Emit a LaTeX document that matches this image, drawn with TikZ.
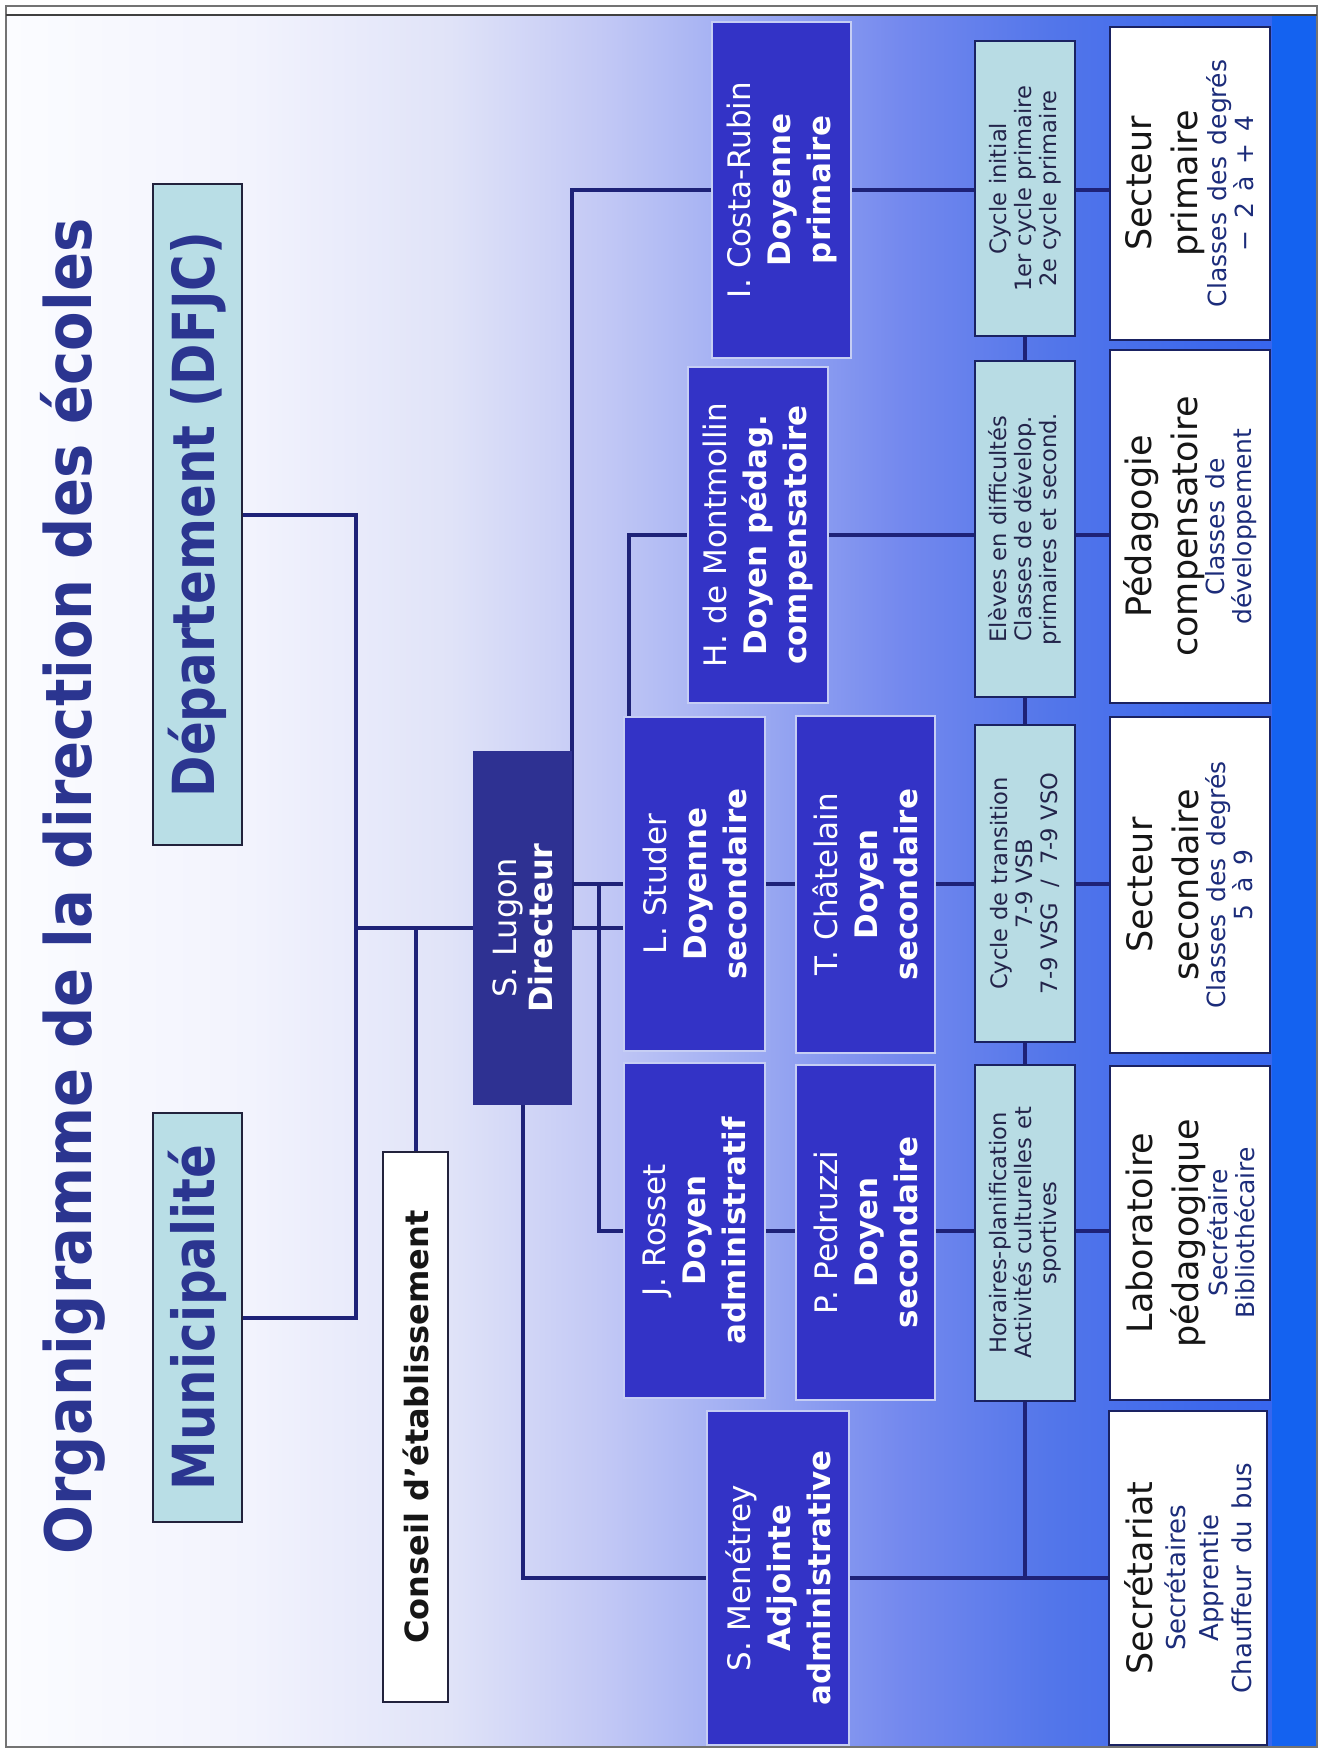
\documentclass[tikz,border=0pt]{standalone}
\usepackage{fontspec}
\setmainfont{DejaVu Sans}
\usepackage{graphicx}
\definecolor{navybox}{HTML}{2E3192}
\definecolor{doyen}{HTML}{3333C6}
\definecolor{doyenedge}{HTML}{C6CEF4}
\definecolor{cyanbox}{HTML}{B8DCE4}
\definecolor{topcyan}{HTML}{B9DEE6}
\definecolor{edge}{HTML}{1A2262}
\definecolor{topedge}{HTML}{22223C}
\definecolor{linec}{HTML}{1E2278}
\definecolor{titlec}{HTML}{2B3590}
\definecolor{subc}{HTML}{1C2C7A}
\definecolor{cyantext}{HTML}{23244A}
\definecolor{darktext}{HTML}{161616}
\definecolor{strip}{HTML}{1462F0}
\definecolor{g0}{HTML}{FBFCFF}
\definecolor{g1}{HTML}{F2F3FD}
\definecolor{g2}{HTML}{E0E3F8}
\definecolor{g3}{HTML}{C3C9F5}
\definecolor{g4}{HTML}{9DABF2}
\definecolor{g5}{HTML}{7489EE}
\definecolor{g6}{HTML}{5376EA}
\definecolor{g7}{HTML}{3E69EC}
\definecolor{g8}{HTML}{3766EE}
\pgfdeclarehorizontalshading{bgshade}{100bp}{color(0bp)=(g0); color(25bp)=(g0); color(34.6bp)=(g1); color(42.5bp)=(g2); color(48.4bp)=(g3); color(54.4bp)=(g4); color(60.3bp)=(g5); color(66.2bp)=(g6); color(72.2bp)=(g7); color(75bp)=(g8); color(100bp)=(g8)}
\pgfdeclarelayer{bg}
\pgfdeclarelayer{lines}
\pgfsetlayers{bg,lines,main}
\newcommand\fsub{\fontsize{12.5}{13.5}\selectfont\color{subc}}
\newcommand\fsubb{\fontsize{13}{16.5}\selectfont\color{subc}}
\tikzset{
  rotbox/.style={rotate=90, inner sep=0pt, outer sep=0pt, align=center},
  parastyle/.style={execute at begin node={\parindent=0pt\parskip=0pt\centering}},
  topbox/.style={rotbox, fill=topcyan, draw=topedge, line width=1pt, text=titlec, font=\bfseries\fontsize{29}{34}\selectfont},
  conseilbox/.style={rotbox, fill=white, draw=topedge, line width=1pt, text=darktext, font=\bfseries\fontsize{16}{19}\selectfont},
  dirbox/.style={rotbox, parastyle, fill=navybox, text=white, font=\fontsize{16}{18}\selectfont},
  doybox/.style={rotbox, parastyle, fill=doyen, draw=doyenedge, line width=0.6pt, text=white, font=\fontsize{15.5}{20}\selectfont},
  cybox/.style={rotbox, parastyle, fill=cyanbox, draw=edge, line width=1pt, text=cyantext, font=\fontsize{11.3}{12.5}\selectfont},
  whbox/.style={rotbox, parastyle, fill=white, draw=edge, line width=1pt, text=darktext, font=\fontsize{17.5}{23}\selectfont},
  conn/.style={draw=linec, line width=2pt},
}
\begin{document}
\begin{tikzpicture}[x=0.5pt,y=-0.5pt]
\useasboundingbox (0,0) rectangle (1323,1754);
\begin{pgfonlayer}{bg}
  \fill[white] (0,0) rectangle (1323,1754);
  \shade[shading=bgshade] (7,16) rectangle (1272,1746);
  \fill[strip] (1272,16) rectangle (1317,1746);
  \draw[black!55, line width=0.6pt] (6,6) rectangle (1317,1747);
  \draw[black!75, line width=1.2pt] (6,15) -- (1317,15);
\end{pgfonlayer}

% title
\node[rotate=90, inner sep=0pt, anchor=base, text=titlec, font=\bfseries\fontsize{32}{38}\selectfont] (title) at (91,886.5) {\scalebox{0.9}[1]{Organigramme de la direction des écoles}};

% top boxes
\node[topbox, minimum width=330.5pt, minimum height=44.5pt] (dep) at (197.5,514.5) {\scalebox{0.86}[1]{Département (DFJC)}};
\node[topbox, minimum width=204.5pt, minimum height=44.5pt] (mun) at (197.5,1317.5) {\scalebox{0.86}[1]{Municipalité}};
\node[conseilbox, minimum width=275pt, minimum height=32.5pt] (conseil) at (415.5,1427) {Conseil d’établissement};

% director
\node[dirbox, text width=177pt, minimum height=49.5pt] (lugon) at (522.5,928) {S. Lugon\par\textbf{Directeur}\par};

% deans
\node[doybox, text width=168pt, minimum height=69.5pt] (costa) at (781.5,190) {I. Costa-Rubin\par\textbf{Doyenne}\par\textbf{primaire}\par};
\node[doybox, text width=168pt, minimum height=70pt] (montmollin) at (758,535) {H. de Montmollin\par\textbf{Doyen pédag.}\par\textbf{compensatoire}\par};
\node[doybox, text width=167pt, minimum height=70.5pt] (studer) at (694.5,884) {L. Studer\par\textbf{Doyenne}\par\textbf{secondaire}\par};
\node[doybox, text width=167.5pt, minimum height=70.5pt] (rosset) at (694.5,1230.5) {J. Rosset\par\textbf{Doyen}\par\textbf{administratif}\par};
\node[doybox, text width=168.5pt, minimum height=69.5pt] (chatelain) at (865.5,884.5) {T. Châtelain\par\textbf{Doyen}\par\textbf{secondaire}\par};
\node[doybox, text width=167.5pt, minimum height=69.5pt] (pedruzzi) at (865.5,1232.5) {P. Pedruzzi\par\textbf{Doyen}\par\textbf{secondaire}\par};
\node[doybox, text width=167pt, minimum height=71pt] (menetrey) at (778,1578) {S. Menétrey\par\textbf{Adjointe}\par\textbf{administrative}\par};

% cyan row
\node[cybox, text width=147.5pt, minimum height=50pt] (cycinit) at (1025,188.5) {Cycle initial\par 1er cycle primaire\par 2e cycle primaire\par};
\node[cybox, text width=168pt, minimum height=50pt] (eleves) at (1025,529) {Elèves en difficultés\par Classes de dévelop.\par primaires et second.\par};
\node[cybox, text width=158.5pt, minimum height=50pt] (cyctrans) at (1025,883.5) {Cycle de transition\par 7-9 VSB\par 7-9 VSG~ /~ 7-9 VSO\par};
\node[cybox, text width=168pt, minimum height=50pt] (horaires) at (1025,1233) {Horaires-planification\par Activités culturelles et\par sportives\par};

% white row
\node[whbox, text width=156.5pt, minimum height=80pt] (secprim) at (1190,183.5) {Secteur\par primaire\par{\fsub Classes des degrés\par − 2 à + 4\par}};
\node[whbox, text width=176.5pt, minimum height=80pt] (pedacomp) at (1190,526.5) {Pédagogie\par compensatoire\par{\fsub Classes de\par développement\par}};
\node[whbox, text width=168pt, minimum height=80pt] (secsec) at (1190,885) {Secteur\par secondaire\par{\fsub Classes des degrés\par 5 à 9\par}};
\node[whbox, text width=167pt, minimum height=80pt] (labo) at (1190,1233) {Laboratoire\par pédagogique\par{\fsub Secrétaire\par Bibliothécaire\par}};
\node[whbox, text width=167pt, minimum height=79pt] (secretariat) at (1188,1578) {Secrétariat\par{\fsubb Secrétaires\par Apprentie\par Chauffeur du bus\par}};

% connectors
\begin{pgfonlayer}{lines}
  \coordinate (xa) at (356,0);
  \coordinate (xc) at (629,0);
  \coordinate (xd) at (599,0);
  \draw[conn] (dep.south) -- (dep.south -| xa) -- (mun.south -| xa) -- (mun.south);
  \draw[conn] (lugon.north -| xa) -- (lugon.north);
  \draw[conn] (conseil.east) -- (conseil.east |- lugon.north);
  \draw[conn] (lugon.south) |- (costa.north);
  \draw[conn] (lugon.south) -- (lugon.south -| xc) |- (montmollin.north);
  \draw[conn] (studer.north -| lugon.south) -- (studer.north);
  \draw[conn] (studer.north -| xd) |- (rosset.north);
  \draw[conn] (costa.south) -- (costa.south -| secprim.north);
  \draw[conn] (montmollin.south) -- (montmollin.south -| pedacomp.north);
  \draw[conn] (studer.south) -- (studer.south -| secsec.north);
  \draw[conn] (rosset.south) -- (rosset.south -| labo.north);
  \draw[conn] (lugon.west) |- (secretariat.north);
  \draw[conn] (cycinit.center) -- (cycinit.center |- secretariat.north);
\end{pgfonlayer}
\end{tikzpicture}
\end{document}
